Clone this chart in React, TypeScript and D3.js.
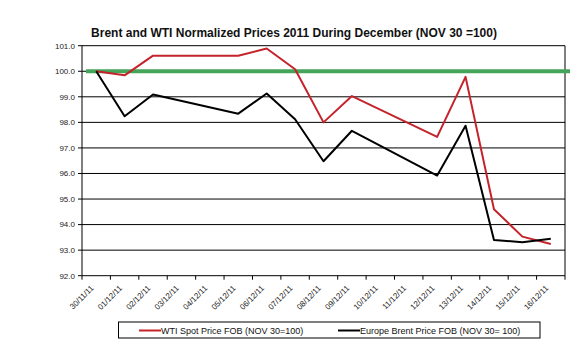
import React from "react";
import * as d3 from "d3";

const categories = [
  "30/11/11", "01/12/11", "02/12/11", "03/12/11", "04/12/11", "05/12/11",
  "06/12/11", "07/12/11", "08/12/11", "09/12/11", "10/12/11", "11/12/11",
  "12/12/11", "13/12/11", "14/12/11", "15/12/11", "16/12/11",
];
// null = no trading day (weekend); the line connects across it
const wti: (number | null)[] = [
  100, 99.84, 100.61, null, null, 100.61, 100.89, 100.08, 98.0, 99.03,
  null, null, 97.43, 99.78, 94.6, 93.53, 93.24,
];
const brent: (number | null)[] = [
  100, 98.24, 99.09, null, null, 98.34, 99.13, 98.12, 96.48, 97.67,
  null, null, 95.92, 97.87, 93.4, 93.31, 93.45,
];
const yTicks = [92, 93, 94, 95, 96, 97, 98, 99, 100, 101];
const baseline = 100;

const title = "Brent and WTI Normalized Prices 2011 During December (NOV 30 =100)";
const wtiLabel = "WTI Spot Price FOB  (NOV 30=100)";
const brentLabel = "Europe Brent Price FOB  (NOV 30= 100)";

const W = 570, H = 361;
const plot = { left: 82, right: 565, top: 45.7, bottom: 275.7 };
const font = "Arial, 'Liberation Sans', sans-serif";

export default function App() {
  const x = d3.scaleBand<string>().domain(categories).range([plot.left, plot.right]);
  const y = d3.scaleLinear().domain([92, 101]).range([plot.bottom, plot.top]);
  const cx = (c: string) => (x(c) as number) + x.bandwidth() / 2;

  const mk = (vals: (number | null)[]) => {
    const pts = categories
      .map((c, i) => ({ c, v: vals[i] }))
      .filter((d) => d.v !== null) as { c: string; v: number }[];
    return d3.line<{ c: string; v: number }>().x((d) => cx(d.c)).y((d) => y(d.v))(pts) || "";
  };

  return (
    <svg width={W} height={H} style={{ position: "absolute", left: 0, top: 0, background: "#fff" }} fontFamily={font}>
      <rect x={0} y={0} width={W} height={H} fill="#fff" />
      <text x={294} y={37} textAnchor="middle" fontSize={12} fontWeight="bold" fill="#111">{title}</text>

      {/* gridlines */}
      {yTicks.map((t) => (
        <g key={t}>
          <line x1={plot.left - 4} x2={plot.right} y1={y(t)} y2={y(t)} stroke="#000" strokeWidth={1} />
          <text x={75} y={y(t)} dy="0.35em" textAnchor="end" fontSize={8} fill="#222">{t.toFixed(1)}</text>
        </g>
      ))}
      {/* axes and border */}
      <line x1={plot.left} x2={plot.left} y1={plot.top} y2={plot.bottom} stroke="#000" />
      <line x1={plot.right} x2={plot.right} y1={plot.top} y2={plot.bottom} stroke="#000" />
      {categories.map((c, i) => (
        <line key={"t" + i} x1={x(c) as number} x2={x(c) as number} y1={plot.bottom} y2={plot.bottom + 4} stroke="#000" />
      ))}
      <line x1={plot.right} x2={plot.right} y1={plot.bottom} y2={plot.bottom + 4} stroke="#000" />
      {categories.map((c) => (
        <text key={"l" + c} transform={`translate(${cx(c) - 4},${plot.bottom + 11}) rotate(-45)`} textAnchor="end" dy="0.35em" fontSize={8} fill="#222">{c}</text>
      ))}

      {/* baseline 100 */}
      <line x1={plot.left + 4} x2={W} y1={y(baseline)} y2={y(baseline)} stroke="#43a45a" strokeWidth={4} />

      <path d={mk(wti)} fill="none" stroke="#c4232b" strokeWidth={2} strokeLinejoin="round" />
      <path d={mk(brent)} fill="none" stroke="#000" strokeWidth={2} strokeLinejoin="round" />

      {/* legend */}
      <rect x={118.5} y={322} width={421.5} height={16} fill="#fff" stroke="#000" strokeWidth={1} />
      <line x1={139} x2={161} y1={330.5} y2={330.5} stroke="#c4232b" strokeWidth={2} />
      <text x={161} y={330.5} dy="0.35em" fontSize={9} fill="#111">{wtiLabel}</text>
      <line x1={338} x2={360} y1={330.5} y2={330.5} stroke="#000" strokeWidth={2} />
      <text x={360} y={330.5} dy="0.35em" fontSize={9} fill="#111">{brentLabel}</text>
    </svg>
  );
}
